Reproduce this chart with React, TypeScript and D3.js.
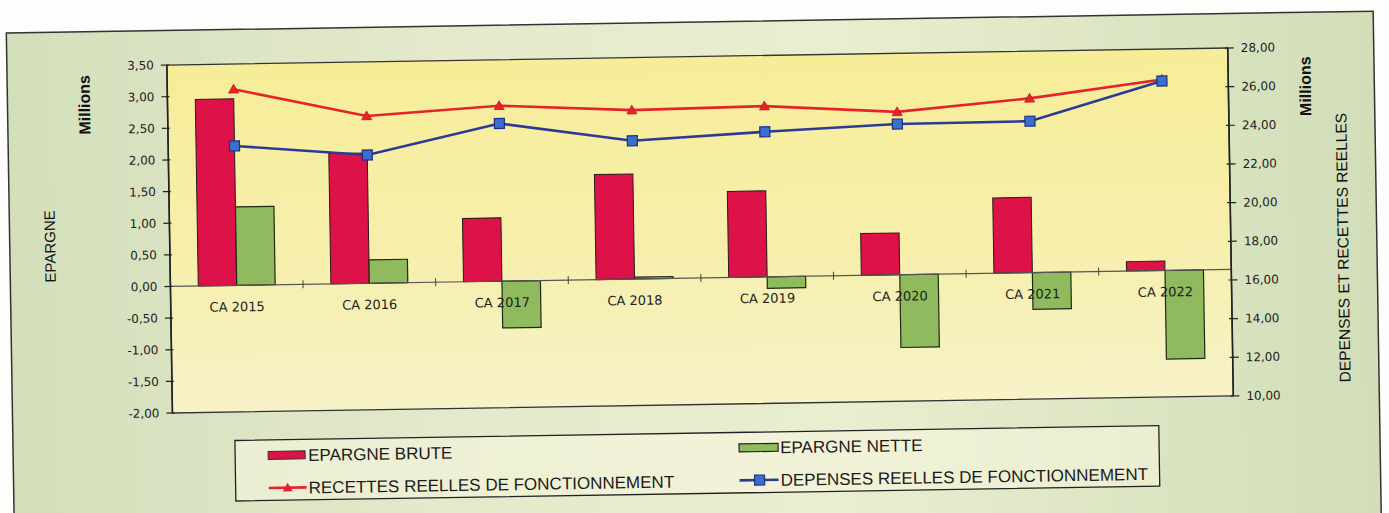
import React from 'react';
import * as d3 from 'd3';

const categories = ['CA 2015', 'CA 2016', 'CA 2017', 'CA 2018', 'CA 2019', 'CA 2020', 'CA 2021', 'CA 2022'];
const epargneBrute = [2.95, 2.06, 1.0, 1.66, 1.36, 0.66, 1.19, 0.15];
const epargneNette = [1.24, 0.37, -0.74, 0.03, -0.18, -1.15, -0.58, -1.4];
const recettes = [26.69, 25.2, 25.62, 25.28, 25.38, 24.97, 25.56, 26.43];
const depenses = [23.76, 23.18, 24.7, 23.7, 24.05, 24.34, 24.38, 26.35];
const leftTicks = [-2, -1.5, -1, -0.5, 0, 0.5, 1, 1.5, 2, 2.5, 3, 3.5];
const rightTicks = [10, 12, 14, 16, 18, 20, 22, 24, 26, 28];
const legendLabels = ['EPARGNE BRUTE', 'EPARGNE NETTE', 'RECETTES REELLES DE FONCTIONNEMENT', 'DEPENSES REELLES DE FONCTIONNEMENT'];

const W = 1389;
const H = 513;
const plot = { left: 170, right: 1231, top: 56.5, bottom: 404.5 };

const fmt = (v: number) => v.toFixed(2).replace('.', ',');

export default function App() {
  const x = d3.scaleBand<string>().domain(categories).range([plot.left, plot.right]).paddingInner(0).paddingOuter(0);
  const bw = x.bandwidth();
  const sub = d3.scaleBand<string>().domain(['brute', 'nette']).range([-bw * 0.29, bw * 0.29]);
  const yL = d3.scaleLinear().domain([-2, 3.5]).range([plot.bottom, plot.top]);
  const yR = d3.scaleLinear().domain([10, 28]).range([plot.bottom, plot.top]);
  const cx = (c: string) => (x(c) as number) + bw / 2;
  const lineR = d3.line<number>().x((_, i) => cx(categories[i])).y((d) => yR(d));
  const y0 = yL(0);

  const tickFont = { fontFamily: '"DejaVu Sans", Verdana, sans-serif', fontSize: 12, fill: '#1e1e1e' };
  const titleFont = { fontFamily: '"Liberation Sans", Arial, sans-serif', fontSize: 15, fill: '#111' };
  const legendFont = { fontFamily: '"Liberation Sans", Arial, sans-serif', fontSize: 17, fill: '#1a1a1a' };

  const redBar = '#dc1248';
  const greenBar = '#8fba5e';
  const redLine = '#e4232b';
  const blueLine = '#2c3a94';
  const blueMarker = '#3b6fcc';

  const tri = (px: number, py: number, s: number) =>
    `M${px},${py - s} L${px + s},${py + s * 0.75} L${px - s},${py + s * 0.75} Z`;

  return (
    <svg width={W} height={H} style={{ position: 'absolute', left: 0, top: 0, background: '#fdfdfb' }}>
      <defs>
        <linearGradient id="outerBg" x1="0" x2="1" y1="0" y2="0">
          <stop offset="0%" stopColor="#d3dfbb" />
          <stop offset="30%" stopColor="#e3e9ca" />
          <stop offset="60%" stopColor="#eaeed0" />
          <stop offset="100%" stopColor="#d1deb8" />
        </linearGradient>
        <linearGradient id="plotBg" x1="0" x2="0" y1="0" y2="1">
          <stop offset="0%" stopColor="#f6ed98" />
          <stop offset="55%" stopColor="#f6efac" />
          <stop offset="100%" stopColor="#f7f2c8" />
        </linearGradient>
      </defs>
      <rect x={0} y={0} width={W} height={H} fill="#fdfdfb" />
      <g transform="rotate(-0.92, 700, 256)">
        {/* outer frame */}
        <rect x={10} y={22} width={1367} height={530} fill="url(#outerBg)" stroke="#333" strokeWidth={1.5} />
        {/* plot area */}
        <rect x={plot.left} y={plot.top} width={plot.right - plot.left} height={plot.bottom - plot.top} fill="url(#plotBg)" stroke="#333" strokeWidth={1.3} />

        {/* bars */}
        {categories.map((c, i) => {
          const vb = epargneBrute[i];
          const vn = epargneNette[i];
          const xb = cx(c) + (sub('brute') as number);
          const xn = cx(c) + (sub('nette') as number);
          return (
            <g key={c}>
              <rect x={xb} y={Math.min(yL(vb), y0)} width={sub.bandwidth()} height={Math.abs(yL(vb) - y0)} fill={redBar} stroke="#2a1a1a" strokeWidth={1} />
              <rect x={xn} y={Math.min(yL(vn), y0)} width={sub.bandwidth()} height={Math.abs(yL(vn) - y0)} fill={greenBar} stroke="#1e2a14" strokeWidth={1.2} />
            </g>
          );
        })}

        {/* category axis at zero */}
        <line x1={plot.left} x2={plot.right} y1={y0} y2={y0} stroke="#555" strokeWidth={1.2} />
        {categories.slice(1).map((c) => (
          <line key={c} x1={x(c) as number} x2={x(c) as number} y1={y0 - 4} y2={y0 + 4} stroke="#444" strokeWidth={1} />
        ))}
        {categories.map((c) => (
          <text key={c} x={cx(c)} y={y0 + 26} textAnchor="middle" style={{ ...tickFont, fontSize: 13 }}>
            {c}
          </text>
        ))}

        {/* left axis */}
        <line x1={plot.left} x2={plot.left} y1={plot.top} y2={plot.bottom} stroke="#222" strokeWidth={1.6} />
        {leftTicks.map((t) => (
          <g key={t}>
            <line x1={plot.left - 6} x2={plot.left + 2} y1={yL(t)} y2={yL(t)} stroke="#222" strokeWidth={1.2} />
            <text x={plot.left - 13} y={yL(t)} dy="0.35em" textAnchor="end" style={tickFont}>
              {fmt(t)}
            </text>
          </g>
        ))}

        {/* right axis */}
        <line x1={plot.right} x2={plot.right} y1={plot.top} y2={plot.bottom} stroke="#222" strokeWidth={1.6} />
        {rightTicks.map((t) => (
          <g key={t}>
            <line x1={plot.right - 3} x2={plot.right + 6} y1={yR(t)} y2={yR(t)} stroke="#222" strokeWidth={1.2} />
            <text x={plot.right + 13} y={yR(t)} dy="0.35em" textAnchor="start" style={tickFont}>
              {fmt(t)}
            </text>
          </g>
        ))}

        {/* lines */}
        <path d={lineR(recettes) as string} fill="none" stroke={redLine} strokeWidth={2.6} />
        <path d={lineR(depenses) as string} fill="none" stroke={blueLine} strokeWidth={2.6} />
        {recettes.map((v, i) => (
          <path key={'r' + i} d={tri(cx(categories[i]), yR(v), 5)} fill={redLine} stroke="#c01820" strokeWidth={0.8} />
        ))}
        {depenses.map((v, i) => (
          <rect key={'d' + i} x={cx(categories[i]) - 5} y={yR(v) - 5} width={10} height={10} fill={blueMarker} stroke="#1f2f86" strokeWidth={1.2} />
        ))}

        {/* axis titles */}
        <text transform="translate(87,95) rotate(-90)" textAnchor="middle" dominantBaseline="central" style={{ ...titleFont, fontSize: 16, fontWeight: 'bold' }}>
          Millions
        </text>
        <text transform="translate(50,236) rotate(-90)" textAnchor="middle" dominantBaseline="central" style={{ ...titleFont, fontSize: 15 }}>
          EPARGNE
        </text>
        <text transform="translate(1308,96) rotate(-90)" textAnchor="middle" dominantBaseline="central" style={{ ...titleFont, fontSize: 16, fontWeight: 'bold' }}>
          Millions
        </text>
        <text transform="translate(1343,258) rotate(-90)" textAnchor="middle" dominantBaseline="central" style={{ ...titleFont, fontSize: 15.5 }}>
          DEPENSES ET RECETTES REELLES
        </text>

        {/* legend */}
        <rect x={232} y={433} width={924} height={60.5} fill="#f8f6df" fillOpacity={0.55} stroke="#222" strokeWidth={1.3} />
        <rect x={265} y={444.5} width={37} height={8} fill={redBar} stroke="#333" strokeWidth={1} />
        <text x={305} y={448.5} dy="0.36em" style={legendFont}>{legendLabels[0]}</text>
        <rect x={736} y={444.5} width={39} height={8} fill={greenBar} stroke="#222" strokeWidth={1.2} />
        <text x={777} y={448.5} dy="0.36em" style={legendFont}>{legendLabels[1]}</text>
        <line x1={265} x2={303} y1={481} y2={481} stroke={redLine} strokeWidth={2.6} />
        <path d={tri(284, 481, 5)} fill={redLine} />
        <text x={305} y={481} dy="0.36em" style={legendFont}>{legendLabels[2]}</text>
        <line x1={736} x2={775} y1={481} y2={481} stroke={blueLine} strokeWidth={2.6} />
        <rect x={751} y={476} width={10} height={10} fill={blueMarker} stroke="#1f2f86" strokeWidth={1.2} />
        <text x={777} y={481} dy="0.36em" style={legendFont}>{legendLabels[3]}</text>
      </g>
    </svg>
  );
}
